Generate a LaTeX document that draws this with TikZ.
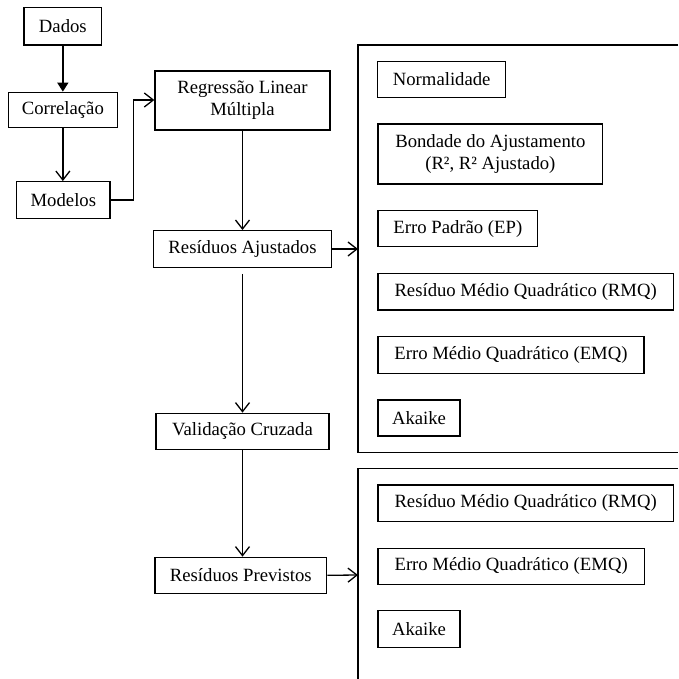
\documentclass[tikz,border=0pt]{standalone}
\usepackage{fontspec}
\setmainfont{Liberation Serif}
\usetikzlibrary{arrows.meta}
\begin{document}
\begin{tikzpicture}[x=1pt,y=-1pt,
  every node/.style={font=\fontsize{18.7}{22}\selectfont},
  bx/.style={draw,line width=1.3pt,inner sep=0pt,align=center,anchor=center},
  ln/.style={line width=1.3pt},
  va/.style={ln,-{Straight Barb[length=9pt,width=14pt,line width=1.3pt]}},
  fa/.style={ln,-{Triangle[length=9pt,width=11pt]}}]
\useasboundingbox (0,0) rectangle (678,679);
% left column
\node[bx,minimum width=77.7pt,minimum height=37.7pt] (dados) at (62.85,26.15) {Dados};
\node[bx,minimum width=109.3pt,minimum height=35.4pt] (corr) at (62.85,110) {Correlação};
\node[bx,minimum width=93.3pt,minimum height=36.6pt] (mod) at (63.35,200) {Modelos};
\node[bx,minimum width=175pt,minimum height=59pt] (reg) at (242.5,100.5) {Regressão Linear\\Múltipla};
\node[bx,minimum width=178.4pt,minimum height=36.6pt] (resaj) at (242.5,249) {Resíduos Ajustados};
\node[bx,minimum width=173pt,minimum height=36pt] (valid) at (242.5,431.3) {Validação Cruzada};
\node[bx,minimum width=171.7pt,minimum height=36pt] (resprev) at (240.85,575.3) {Resíduos Previstos};
% right panels
\draw[ln] (678,45) -- (358,45) -- (358,452.7) -- (678,452.7);
\draw[ln] (678,468.3) -- (358,468.3) -- (358,679);
\coordinate (p1) at (358,249);
\coordinate (p2) at (358,575);
\node[bx,minimum width=128pt,minimum height=35.6pt] (normal) at (441.7,79.5) {Normalidade};
\node[bx,minimum width=224.7pt,minimum height=60pt] (bond) at (490.35,154) {Bondade do Ajustamento\\(R², R² Ajustado)};
\node[bx,minimum width=159.7pt,minimum height=36pt] (ep) at (457.85,228.7) {Erro Padrão (EP)};
\node[bx,minimum width=295.3pt,minimum height=36.7pt] (rmqa) at (525.65,291.65) {Resíduo Médio Quadrático (RMQ)};
\node[bx,minimum width=266pt,minimum height=36.6pt] (emqa) at (511,355) {Erro Médio Quadrático (EMQ)};
\node[bx,minimum width=82pt,minimum height=36pt] (aka) at (419,418) {Akaike};
\node[bx,minimum width=295.3pt,minimum height=36.7pt] (rmqb) at (525.65,503.35) {Resíduo Médio Quadrático (RMQ)};
\node[bx,minimum width=266.3pt,minimum height=36pt] (emqb) at (511.15,566.3) {Erro Médio Quadrático (EMQ)};
\node[bx,minimum width=82pt,minimum height=36.6pt] (akb) at (419,629) {Akaike};
% connectors
\draw[fa] (dados.south) -- (dados.south |- corr.north);
\draw[va] (corr.south) -- (corr.south |- mod.north);
\draw[va] (mod.east) -- (133.3,200) -- (133.3,100) -- (reg.west |- 0,100);
\draw[va] (reg.south) -- (resaj.north);
\draw[va,shorten <=6pt] (resaj.south) -- (valid.north);
\draw[va] (valid.south) -- (valid.south |- resprev.north);
\draw[va] (resaj.east) -- (p1);
\draw[va] (resprev.east) -- (p2);
\end{tikzpicture}
\end{document}
